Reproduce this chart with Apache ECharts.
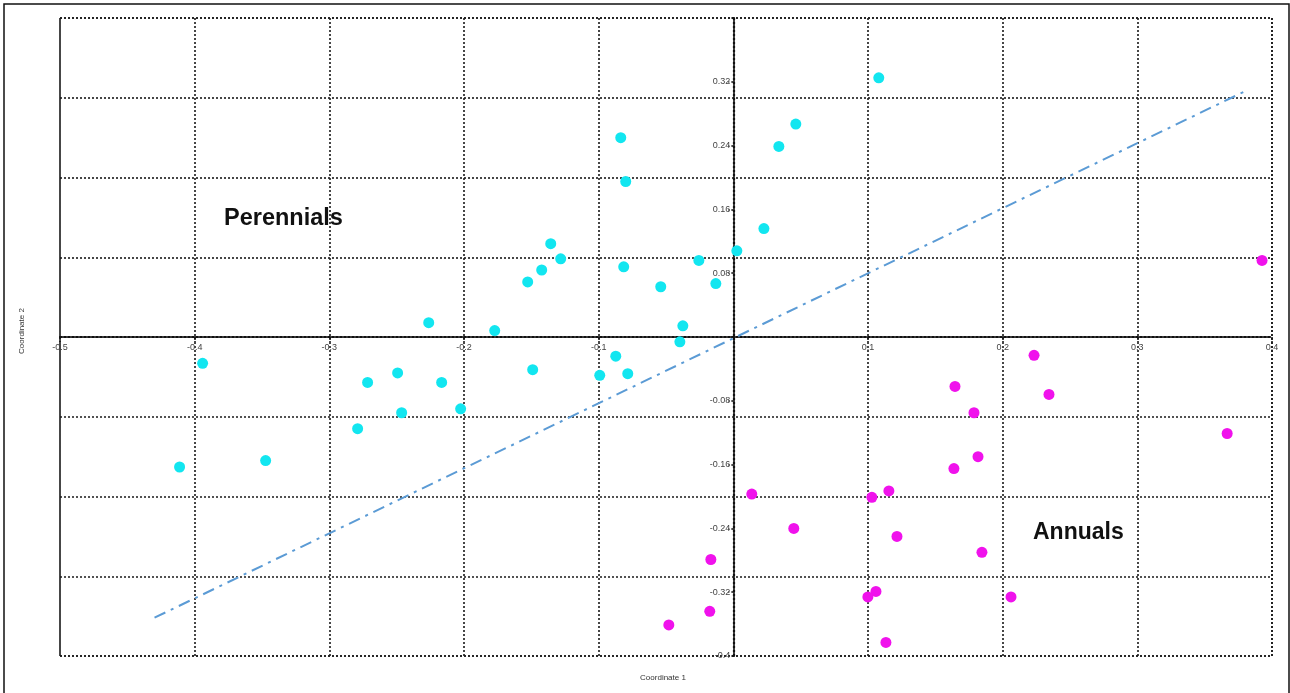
<!DOCTYPE html>
<html>
<head>
<meta charset="utf-8">
<script src="https://cdn.jsdelivr.net/npm/echarts@6/dist/echarts.min.js"></script>
<style>html,body{margin:0;padding:0;background:#fff;}#c{width:1290px;height:693px;}</style>
</head>
<body>
<div id="c"></div>
<script>
// Perennials (cyan) coordinates
const perennialsX = [0.108,-0.0836,0.0464,0.0338,-0.0799,0.0227,0.0026,-0.1356,-0.1282,-0.1423,-0.1527,-0.0814,-0.0256,-0.0130,-0.0539,-0.0375,-0.0397,-0.2262,-0.1772,-0.0873,-0.3941,-0.1490,-0.2493,-0.0992,-0.0784,-0.2716,-0.2166,-0.2463,-0.2025,-0.2790,-0.3473,-0.4112];
const perennialsY = [0.325,0.250,0.267,0.239,0.195,0.136,0.108,0.117,0.098,0.084,0.069,0.088,0.096,0.067,0.063,0.014,-0.006,0.018,0.008,-0.024,-0.033,-0.041,-0.045,-0.048,-0.046,-0.057,-0.057,-0.095,-0.090,-0.115,-0.155,-0.163];
// Annuals (magenta) coordinates
const annualsX = [0.3926,0.2233,0.2344,0.1646,0.1787,0.3667,0.1817,0.1638,0.0137,0.1155,0.1029,0.0449,0.1215,-0.0167,0.1846,0.1059,0.0999,0.2062,-0.0175,-0.0479,0.1133];
const annualsY = [0.096,-0.023,-0.072,-0.062,-0.095,-0.121,-0.150,-0.165,-0.197,-0.193,-0.201,-0.240,-0.250,-0.279,-0.270,-0.319,-0.326,-0.326,-0.344,-0.361,-0.383];
// Separation line endpoints
const lineX = [-0.4298, 0.3822];
const lineY = [-0.352, 0.310];
// Axis tick settings
const xTicks = {min: -0.5, max: 0.4, step: 0.1};
const yGridTicks = {min: -0.4, max: 0.4, step: 0.1};
const yLabelTicks = {min: -0.4, max: 0.4, step: 0.08};

const zip = (a, b) => a.map((v, i) => [v, b[i]]);

const G = {left: 60, right: 18, top: 18, bottom: 37};
const W = 1290, H = 693;
const chart = echarts.init(document.getElementById('c'));
const dotted = {color: '#1a1a1a', type: [2, 2], width: 1.6};
const axisDot = {color: '#111', type: [2, 2], width: 2.2};
chart.setOption({
  animation: false,
  backgroundColor: '#fff',
  grid: {left: G.left, right: G.right, top: G.top, bottom: G.bottom, show: true, borderColor: '#1a1a1a', borderWidth: 1.6, borderType: [2, 2]},
  xAxis: {
    type: 'value', min: xTicks.min, max: xTicks.max, interval: xTicks.step,
    position: 'bottom',
    axisLine: {onZero: false, lineStyle: axisDot},
    axisTick: {show: true, length: 5, lineStyle: {color: '#111', type: [2, 2], width: 1.5}},
    axisLabel: {fontSize: 9, color: '#444', fontFamily: 'Liberation Sans', margin: 6,
      formatter: v => Math.abs(v) < 1e-9 ? '' : (+v.toFixed(1)).toString()},
    splitLine: {show: true, lineStyle: dotted}
  },
  yAxis: [{
    type: 'value', min: yLabelTicks.min, max: yLabelTicks.max, interval: yLabelTicks.step,
    position: 'left',
    axisLine: {onZero: false, lineStyle: axisDot},
    axisTick: {show: true, length: 5, lineStyle: {color: '#111', type: [2, 2], width: 1.5}},
    axisLabel: {fontSize: 9, color: '#444', fontFamily: 'Liberation Sans', margin: 3,
      formatter: v => {
        if (Math.abs(v) < 1e-9 || v > 0.39) return '';
        if (v < -0.39) return '-0.4';
        return v.toFixed(2);
      }},
    splitLine: {show: false}
  }, {
    type: 'value', min: yGridTicks.min, max: yGridTicks.max, interval: yGridTicks.step,
    position: 'left',
    axisLine: {show: false}, axisTick: {show: false}, axisLabel: {show: false},
    splitLine: {show: true, lineStyle: dotted}
  }],
  graphic: [
    {type: 'rect', shape: {x: 4, y: 4, width: 1285, height: 690}, style: {fill: 'none', stroke: '#111', lineWidth: 1.5}, z: 100},
    {type: 'text', left: 224, top: 207, style: {text: 'Perennials', font: 'bold 23.5px "Liberation Sans"', fill: '#111'}},
    {type: 'text', left: 1033, top: 521, style: {text: 'Annuals', font: 'bold 23px "Liberation Sans"', fill: '#111'}},
    {type: 'text', x: 22, y: 331, rotation: Math.PI / 2, style: {text: 'Coordinate 2', font: '8px "Liberation Sans"', fill: '#333', textAlign: 'center', textVerticalAlign: 'middle'}},
    {type: 'text', x: 663, y: 678, style: {text: 'Coordinate 1', font: '8px "Liberation Sans"', fill: '#333', textAlign: 'center', textVerticalAlign: 'middle'}}
  ],
  series: [
    {type: 'line', data: zip(lineX, lineY), symbol: 'none', silent: true, z: 3,
      lineStyle: {color: '#5b9bd5', width: 2, type: [12, 6, 3, 6]}},
    {type: 'scatter', data: zip(perennialsX, perennialsY), symbolSize: 11, z: 5,
      itemStyle: {color: '#12e6f0', opacity: 1}},
    {type: 'scatter', data: zip(annualsX, annualsY), symbolSize: 11, z: 5,
      itemStyle: {color: '#f012ec', opacity: 1}}
  ]
});
// Move the axes to cross at the origin, using the library's own scales
const px0 = chart.convertToPixel({xAxisIndex: 0}, 0);
const py0 = chart.convertToPixel({yAxisIndex: 0}, 0);
chart.setOption({
  xAxis: {offset: -((H - G.bottom) - py0)},
  yAxis: [{offset: -(px0 - G.left)}, {}]
});
</script>
</body>
</html>
